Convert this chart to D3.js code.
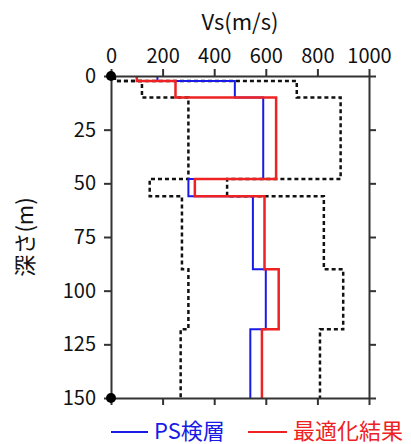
<!DOCTYPE html>
<html><head><meta charset="utf-8">
<script src="https://cdn.jsdelivr.net/npm/d3@7"></script>
<style>body{margin:0;background:#fff}svg{display:block}</style>
</head><body>
<svg id="c" width="411" height="444"></svg>
<script>
const depths = [0, 2.3, 10, 48, 56, 90, 118, 150];
const psVs   = [180, 480, 590, 300, 550, 600, 540];
const optVs  = [100, 250, 640, 325, 595, 650, 585];
const lowVs  = [15, 120, 300, 150, 275, 300, 270];
const upVs   = [15, 720, 890, 450, 825, 900, 810];
const xTicks = [0, 200, 400, 600, 800, 1000];
const yTicks = [0, 25, 50, 75, 100, 125, 150];
const seriesNames = ["PS検層", "最適化結果"];

const svg = d3.select("#c");
const m = {l:111, r:42, t:76, b:46};
const W = 411, H = 444;
const x = d3.scaleLinear().domain([0,1000]).range([m.l, W-m.r]);
const y = d3.scaleLinear().domain([0,150]).range([m.t, H-m.b]);
const font = "'Noto Sans CJK JP', 'Liberation Sans', sans-serif";

function pts(vals){
  const p = [];
  vals.forEach((v,i)=>{ p.push([v, depths[i]]); p.push([v, depths[i+1]]); });
  return p;
}
const line = d3.line().x(d=>x(d[0])).y(d=>y(d[1]));

// dashed bounds
[lowVs, upVs].forEach(vals=>{
  svg.append("path").attr("d", line(pts(vals))).attr("fill","none")
    .attr("stroke","#111").attr("stroke-width",2.5).attr("stroke-dasharray","4,3");
});
svg.append("path").attr("d", line(pts(psVs))).attr("fill","none")
  .attr("stroke","#1a1ae6").attr("stroke-width",2);
svg.append("path").attr("d", line(pts(optVs))).attr("fill","none")
  .attr("stroke","#ee2222").attr("stroke-width",2.5);

// axes
const axStyle = g=>{
  g.select(".domain").attr("stroke","#333").attr("stroke-width",2);
  g.selectAll(".tick line").attr("stroke","#333").attr("stroke-width",2);
  g.selectAll("text").attr("font-family",font).attr("font-size",20).attr("fill","#111");
};
svg.append("g").attr("transform",`translate(0,${y(0)})`)
  .call(d3.axisTop(x).tickValues(xTicks).tickFormat(d3.format("d")).tickSize(7).tickSizeOuter(0).tickPadding(6)).call(axStyle);
svg.append("g").attr("transform",`translate(0,${y(150)})`)
  .call(d3.axisBottom(x).tickValues(xTicks).tickSize(7).tickSizeOuter(0).tickFormat("")).call(axStyle);
svg.append("g").attr("transform",`translate(${x(0)},0)`)
  .call(d3.axisLeft(y).tickValues(yTicks).tickSize(7).tickSizeOuter(0).tickPadding(8)).call(axStyle);
svg.append("g").attr("transform",`translate(${x(1000)},0)`)
  .call(d3.axisRight(y).tickValues(yTicks).tickSize(7).tickSizeOuter(0).tickFormat("")).call(axStyle);

// end markers
[0,150].forEach(d=>{
  svg.append("circle").attr("cx",x(0)).attr("cy",y(d)).attr("r",5).attr("fill","#000");
});

// titles
svg.append("text").attr("x",(x(0)+x(1000))/2).attr("y",30).attr("text-anchor","middle")
  .attr("font-family",font).attr("font-size",22).attr("fill","#111").text("Vs(m/s)");
svg.append("text").attr("transform",`translate(33,${(y(0)+y(150))/2}) rotate(-90)`)
  .attr("text-anchor","middle").attr("font-family",font).attr("font-size",22).attr("fill","#111").text("深さ(m)");

// legend
const leg = [{n:seriesNames[0], c:"#1a1ae6", x1:111, x2:148, tx:154},
             {n:seriesNames[1], c:"#ee2222", x1:248, x2:287, tx:293}];
leg.forEach(l=>{
  svg.append("line").attr("x1",l.x1).attr("x2",l.x2).attr("y1",432).attr("y2",432)
    .attr("stroke",l.c).attr("stroke-width",2);
  svg.append("text").attr("x",l.tx).attr("y",439).attr("font-family",font).attr("font-size",22)
    .attr("fill",l.c).text(l.n);
});
</script>
</body></html>
